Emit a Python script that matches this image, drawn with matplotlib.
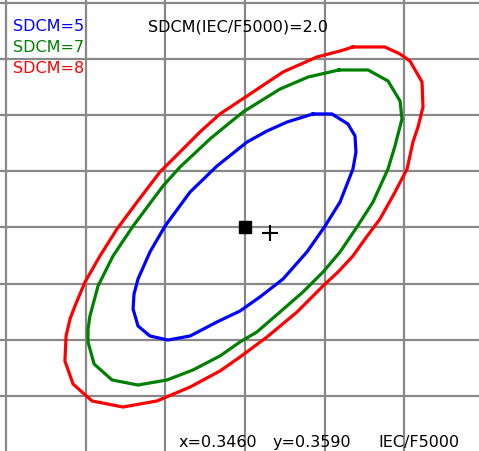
import matplotlib
matplotlib.use("Agg")
import matplotlib.pyplot as plt

# chromaticity target
target_x = 0.3460
target_y = 0.3590
measured_x = 0.3476
measured_y = 0.3585

# ellipse outlines (CIE x, y)
sdcm5_x = [0.35027, 0.35146, 0.35247, 0.35291, 0.35297, 0.35278, 0.35197, 0.35103,
           0.34989, 0.34839, 0.34694, 0.34569, 0.34424, 0.34255, 0.34116, 0.34003,
           0.33928, 0.33897, 0.33903, 0.33928, 0.34003, 0.34098, 0.34255, 0.34424,
           0.34613, 0.34738, 0.34864]
sdcm5_y = [0.36912, 0.36912, 0.36822, 0.36716, 0.36573, 0.36421, 0.36127, 0.35913,
           0.35682, 0.35441, 0.35281, 0.35156, 0.35058, 0.34933, 0.34897, 0.34933,
           0.35022, 0.35174, 0.35307, 0.35441, 0.35682, 0.35913, 0.36216, 0.36448,
           0.36662, 0.36760, 0.36840]

sdcm7_x = [0.35190, 0.35373, 0.35498, 0.35574, 0.35586, 0.35542, 0.35498, 0.35404,
           0.35303, 0.35197, 0.35090, 0.34964, 0.34820, 0.34675, 0.34569, 0.34443,
           0.34273, 0.34110, 0.33928, 0.33765, 0.33652, 0.33614, 0.33614, 0.33626,
           0.33677, 0.33771, 0.33897, 0.34085, 0.34192, 0.34380, 0.34487, 0.34587,
           0.34820, 0.34996]
sdcm7_y = [0.37304, 0.37304, 0.37206, 0.37027, 0.36867, 0.36626, 0.36421, 0.36127,
           0.35904, 0.35682, 0.35503, 0.35325, 0.35147, 0.34969, 0.34880, 0.34755,
           0.34630, 0.34541, 0.34496, 0.34541, 0.34683, 0.34880, 0.34995, 0.35111,
           0.35379, 0.35646, 0.35913, 0.36270, 0.36439, 0.36689, 0.36814, 0.36929,
           0.37134, 0.37241]

sdcm8_x = [0.35278, 0.35479, 0.35574, 0.35636, 0.35712, 0.35718, 0.35687, 0.35655,
           0.35618, 0.35536, 0.35448, 0.35354, 0.35278, 0.35184, 0.35090, 0.34927,
           0.34738, 0.34569, 0.34443, 0.34255, 0.34047, 0.33834, 0.33639, 0.33520,
           0.33469, 0.33476, 0.33501, 0.33532, 0.33595, 0.33689, 0.33796, 0.33922,
           0.34066, 0.34211, 0.34317, 0.34443, 0.34613, 0.34839, 0.35052, 0.35197]
sdcm8_y = [0.37509, 0.37509, 0.37446, 0.37384, 0.37197, 0.36974, 0.36796, 0.36662,
           0.36421, 0.36199, 0.35976, 0.35798, 0.35646, 0.35503, 0.35379, 0.35147,
           0.34924, 0.34746, 0.34621, 0.34478, 0.34354, 0.34300, 0.34354, 0.34505,
           0.34710, 0.34933, 0.35085, 0.35200, 0.35414, 0.35646, 0.35887, 0.36127,
           0.36395, 0.36600, 0.36751, 0.36912, 0.37072, 0.37286, 0.37420, 0.37473]

grid_x = [0.331, 0.336, 0.341, 0.346, 0.351, 0.356]
grid_y = [0.344, 0.349, 0.354, 0.359, 0.364, 0.369, 0.374, 0.379]

W, H = 479, 452
fig = plt.figure(figsize=(W / 100, H / 100), dpi=100)
ax = fig.add_axes([0, 0, 1, 1])
ax.set_xlim(0.330611, 0.360698)
ax.set_ylim(0.339080, 0.379365)

ax.set_xticks(grid_x)
ax.set_yticks(grid_y)
ax.tick_params(length=0, labelbottom=False, labelleft=False)
ax.grid(True, color="#888888", lw=1.6)
ax.set_axisbelow(True)
for s in ax.spines.values():
    s.set_visible(False)

for xs, ys, col in [(sdcm5_x, sdcm5_y, "#0000ff"),
                    (sdcm7_x, sdcm7_y, "#008000"),
                    (sdcm8_x, sdcm8_y, "#ff0000")]:
    ax.plot(xs + xs[:1], ys + ys[:1], color=col, lw=2.3, solid_joinstyle="round")

ax.plot([target_x], [target_y], "s", color="black", ms=8)
ax.plot([measured_x], [measured_y], "+", color="black", ms=12, mew=1.5)


def px_text(x, y, s, **kw):
    fig.text(x / W, 1 - y / H, s, va="baseline", ha="left", fontsize=11.5,
             family="DejaVu Sans", **kw)


px_text(13, 31, "SDCM=5", color="#0000ff")
px_text(13, 52, "SDCM=7", color="#008000")
px_text(13, 73, "SDCM=8", color="#ff0000")
px_text(148, 31, "SDCM(IEC/F5000)=2.0", color="black")
px_text(179, 447, "x=%.4f" % target_x, color="black")
px_text(273, 447, "y=%.4f" % target_y, color="black")
px_text(378, 447, "IEC/F5000", color="black")

fig.savefig("out.png", dpi=100)
